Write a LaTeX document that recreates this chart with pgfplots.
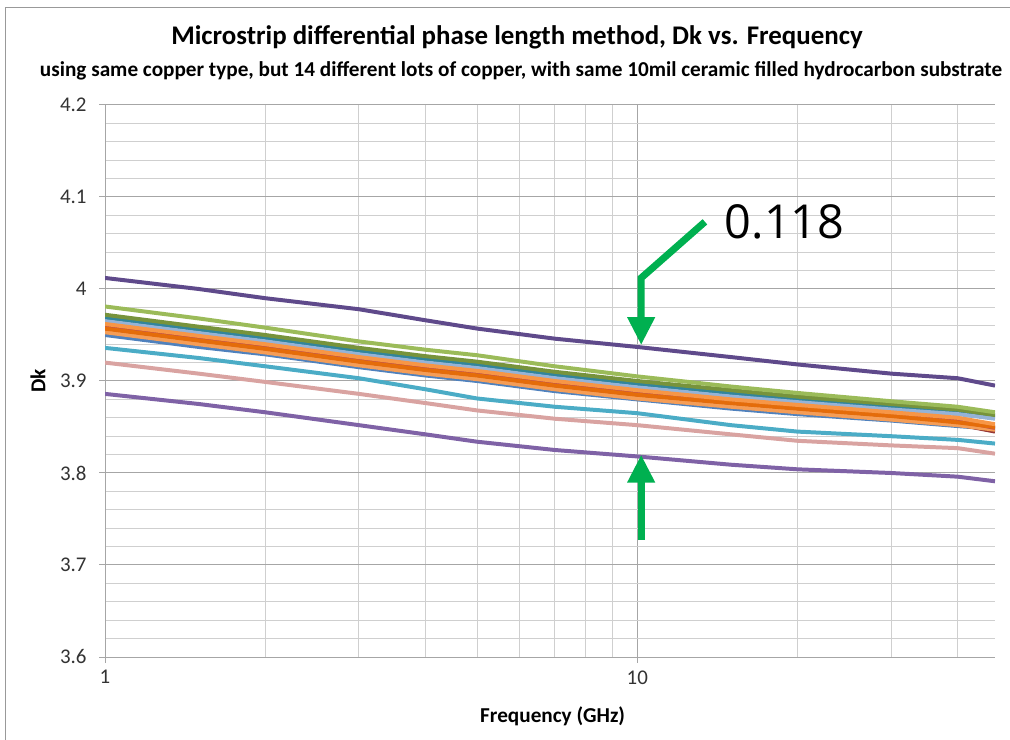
\documentclass[border=0pt]{standalone}
\usepackage{fontspec}
\setmainfont{Carlito}
\newfontfamily\annfont{Open Sans}
\usepackage{pgfplots}
\pgfplotsset{compat=1.18}
\usepackage{pgfplotstable}
\usetikzlibrary{arrows.meta}

\definecolor{cTopPurple}{HTML}{5F4A8B}
\definecolor{cLightGreen}{HTML}{9BBB59}
\definecolor{cDarkGreen}{HTML}{77933C}
\definecolor{cTeal}{HTML}{31859C}
\definecolor{cLightBlue}{HTML}{95B3D7}
\definecolor{cOrange}{HTML}{F79646}
\definecolor{cRed}{HTML}{C0504D}
\definecolor{cDarkOrange}{HTML}{E46C0A}
\definecolor{cDarkRed}{HTML}{953735}
\definecolor{cOrangeB}{HTML}{F59D56}
\definecolor{cBlue}{HTML}{4F81BD}
\definecolor{cCyan}{HTML}{4BACC6}
\definecolor{cPink}{HTML}{D9A3A1}
\definecolor{cBotPurple}{HTML}{7F62A6}
\definecolor{arrowgreen}{HTML}{00B050}
\definecolor{gridmajor}{HTML}{A6A6A6}
\definecolor{gridminor}{HTML}{CFCFCF}
\definecolor{ticktext}{HTML}{333333}

\pgfplotstableread{
x    s1    s2    s3    s4    s5    s6    s7    s8    s9    s10   s11   s12   s13   s14
1    4.012 3.981 3.972 3.969 3.965 3.962 3.960 3.957 3.955 3.953 3.950 3.936 3.920 3.886
1.5  4.000 3.968 3.959 3.956 3.952 3.949 3.947 3.944 3.942 3.940 3.937 3.925 3.908 3.875
2    3.990 3.958 3.950 3.947 3.943 3.940 3.938 3.935 3.933 3.931 3.929 3.916 3.899 3.866
3    3.978 3.943 3.936 3.933 3.929 3.926 3.924 3.921 3.919 3.917 3.915 3.903 3.886 3.852
4    3.966 3.934 3.927 3.924 3.920 3.917 3.915 3.912 3.910 3.908 3.906 3.891 3.876 3.842
5    3.957 3.928 3.921 3.918 3.914 3.911 3.909 3.906 3.904 3.902 3.900 3.881 3.868 3.834
7    3.946 3.916 3.910 3.907 3.903 3.900 3.898 3.895 3.893 3.891 3.889 3.872 3.859 3.825
10   3.937 3.905 3.900 3.897 3.893 3.890 3.888 3.885 3.883 3.881 3.880 3.865 3.852 3.818
15   3.926 3.894 3.890 3.887 3.883 3.880 3.878 3.876 3.874 3.872 3.870 3.852 3.842 3.809
20   3.918 3.887 3.883 3.880 3.877 3.874 3.872 3.870 3.868 3.866 3.864 3.845 3.835 3.804
30   3.908 3.878 3.875 3.872 3.869 3.866 3.864 3.862 3.860 3.858 3.857 3.840 3.830 3.800
40   3.903 3.872 3.869 3.866 3.864 3.860 3.857 3.855 3.853 3.852 3.851 3.836 3.827 3.796
47   3.895 3.866 3.863 3.861 3.859 3.853 3.849 3.850 3.845 3.847 3.848 3.832 3.821 3.791
}\dkdata

\begin{document}
\begin{tikzpicture}
\useasboundingbox (0,0) rectangle (1010bp,740bp);
\draw[color=gray!80, line width=0.8bp] (5bp,0) -- (5bp,733bp) -- (1010bp,733bp);
\node[font=\bfseries\fontsize{27}{30}\selectfont] at (517bp,703bp)
  {Microstrip differential phase length method, Dk vs. Frequency};
\node[font=\bfseries\fontsize{21.3}{24}\selectfont] at (521bp,669bp)
  {using same copper type, but 14 different lots of copper, with same 10mil ceramic filled hydrocarbon substrate};
\begin{axis}[
  at={(105bp,83bp)}, anchor=south west,
  scale only axis, width=890bp, height=552bp,
  xmode=log, log basis x=10,
  xmin=1, xmax=47, ymin=3.6, ymax=4.2,
  xtick={1,10}, xticklabels={1,10},
  minor xtick={2,3,4,5,6,7,8,9,20,30,40},
  ytick={3.6,3.7,3.8,3.9,4.0,4.1,4.2},
  yticklabels={3.6,3.7,3.8,3.9,4,4.1,4.2},
  minor ytick={3.62,3.64,3.66,3.68,3.72,3.74,3.76,3.78,3.82,3.84,3.86,3.88,3.92,3.94,3.96,3.98,4.02,4.04,4.06,4.08,4.12,4.14,4.16,4.18},
  grid=both,
  major grid style={color=gridmajor, line width=1bp},
  minor grid style={color=gridminor, line width=1bp},
  axis lines=left,
  axis line style={-, color=gridmajor, line width=1bp},
  tick align=outside,
  major tick length=6bp, minor tick length=0bp,
  tick style={color=gridmajor, line width=1bp},
  /pgf/number format/assume math mode=true,
  tick label style={font=\fontsize{21}{23}\selectfont, text=ticktext},
  yticklabel style={xshift=-9bp},
  xticklabel style={yshift=-4bp},
  xlabel={Frequency (GHz)},
  ylabel={Dk},
  xlabel style={font=\bfseries\fontsize{21.3}{24}\selectfont, at={(axis description cs:0.503,0)}, anchor=center, yshift=-59bp},
  ylabel style={font=\bfseries\fontsize{21.3}{24}\selectfont, at={(axis description cs:-0.0753,0.5)}, anchor=center},
  clip mode=individual,
  every axis plot/.append style={line width=4pt, mark=none, line join=round},
]
\addplot[color=cBlue]       table[x=x, y=s11] {\dkdata};
\addplot[color=cTeal]       table[x=x, y=s4]  {\dkdata};
\addplot[color=cLightBlue]  table[x=x, y=s5]  {\dkdata};
\addplot[color=cDarkGreen]  table[x=x, y=s3]  {\dkdata};
\addplot[color=cLightGreen] table[x=x, y=s2]  {\dkdata};
\addplot[color=cDarkRed]    table[x=x, y=s9]  {\dkdata};
\addplot[color=cOrangeB]    table[x=x, y=s10] {\dkdata};
\addplot[color=cRed]        table[x=x, y=s7]  {\dkdata};
\addplot[color=cDarkOrange] table[x=x, y=s8]  {\dkdata};
\addplot[color=cOrange]     table[x=x, y=s6]  {\dkdata};
\addplot[color=cCyan]       table[x=x, y=s12] {\dkdata};
\addplot[color=cPink]       table[x=x, y=s13] {\dkdata};
\addplot[color=cTopPurple]  table[x=x, y=s1]  {\dkdata};
\addplot[color=cBotPurple]  table[x=x, y=s14] {\dkdata};

\draw[color=arrowgreen, line width=7bp, line join=miter,
      -{Triangle[width=26bp,length=28bp]}]
  (axis cs:13.4,4.073) -- (axis cs:10.17,4.012) -- (axis cs:10.17,3.939);
\draw[color=arrowgreen, line width=7bp,
      -{Triangle[width=26bp,length=28bp]}]
  (axis cs:10.17,3.727) -- (axis cs:10.17,3.820);
\node[anchor=west, inner sep=0pt, font=\annfont\fontsize{47}{50}\selectfont]
  at (axis cs:14.6,4.073) {0.118};
\end{axis}
\end{tikzpicture}
\end{document}
